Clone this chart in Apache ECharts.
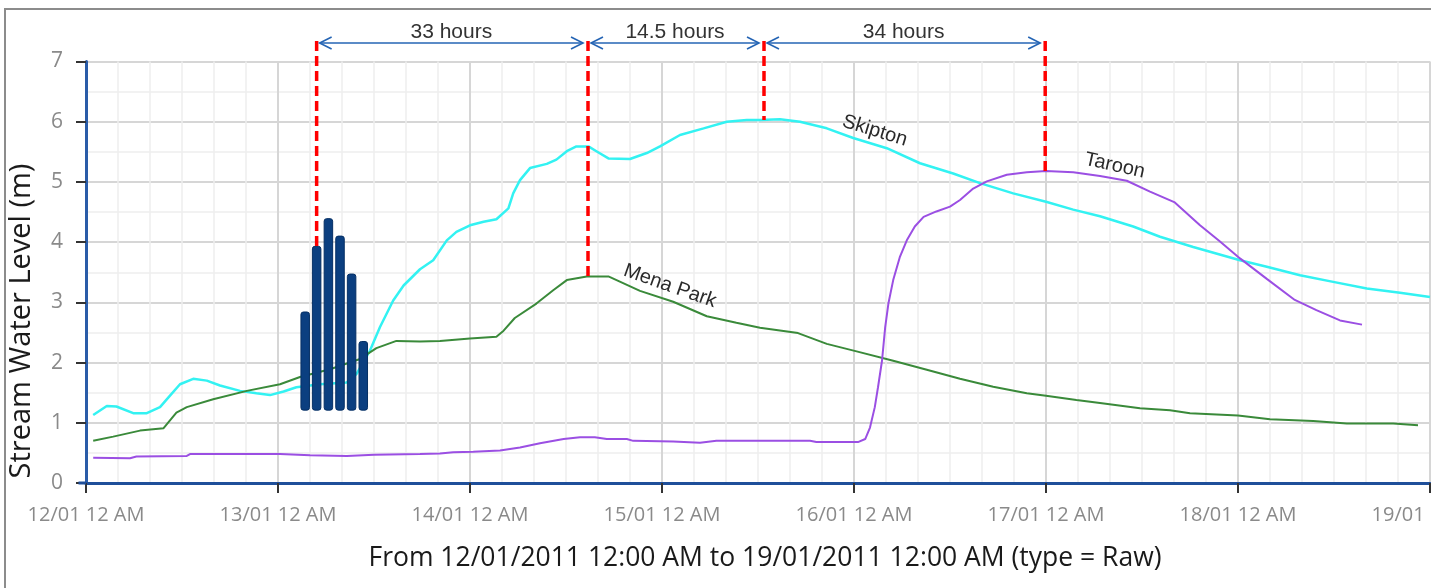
<!DOCTYPE html>
<html>
<head>
<meta charset="utf-8">
<script src="https://cdn.jsdelivr.net/npm/echarts@6/dist/echarts.min.js"></script>
<style>
  html, body { margin: 0; padding: 0; background: #ffffff; }
  #chart { width: 1431px; height: 588px; }
</style>
</head>
<body>
<div id="chart"></div>
<script>
// Time is measured in hours since 12/01/2011 12:00 AM.
const dayLabels = ['12/01 12 AM', '13/01 12 AM', '14/01 12 AM', '15/01 12 AM',
                   '16/01 12 AM', '17/01 12 AM', '18/01 12 AM', '19/01 12 AM'];

const skiptonHours = [0.9, 2.6, 3.8, 5.9, 7.6, 9.25, 10.5, 11.75, 13.4, 15.1, 16.75, 19.25, 21.3, 23, 24.7, 26.3,
  29.25, 32.6, 33.8, 35.5, 36.75, 38.4, 39.7, 41.75, 43.4, 45.1, 46.3, 48, 49.7, 51.3, 52.8, 53.4, 54.25, 55.5,
  57.6, 58.8, 60.1, 61.3, 62.8, 63.8, 65.3, 68, 70.1, 71.75, 74.25, 77.2, 80.1, 82.6, 84.25, 86.75, 89.25, 92.6,
  95.9, 100.1, 104.25, 108.4, 111.75, 115.9, 120, 123.4, 126.75, 130.9, 134.25, 138.4, 144.25, 147.6, 151.75,
  155.9, 160.1, 164.25, 168];
const skiptonLevel = [1.13, 1.28, 1.27, 1.16, 1.16, 1.26, 1.45, 1.64, 1.73, 1.70, 1.62, 1.53, 1.49, 1.46, 1.52, 1.59,
  1.64, 1.67, 1.81, 2.20, 2.59, 3.03, 3.28, 3.55, 3.70, 4.03, 4.17, 4.28, 4.34, 4.38, 4.56, 4.81, 5.03, 5.23,
  5.30, 5.37, 5.51, 5.59, 5.59, 5.51, 5.39, 5.38, 5.48, 5.59, 5.78, 5.89, 6.00, 6.03, 6.03, 6.04, 6.00, 5.89,
  5.73, 5.56, 5.31, 5.14, 4.98, 4.81, 4.67, 4.54, 4.43, 4.26, 4.09, 3.92, 3.70, 3.59, 3.45,
  3.34, 3.23, 3.16, 3.09];

const menaParkHours = [0.9, 3.4, 6.75, 9.7, 11.3, 12.6, 15.9, 20.1, 24.25, 26.75, 30.5, 34.25, 36.3, 38.8, 41.75,
  44.25, 48, 51.3, 52.2, 53.6, 56.3, 58.4, 60.1, 62.6, 65.3, 69.25, 73.4, 77.6, 81.3, 84.25, 89, 92.6, 96.2,
  100.9, 105.1, 109.25, 113.4, 117.6, 120, 123.8, 126.75, 131.75, 135.5, 138, 144, 148, 153.4, 157.6, 163.4, 166.5];
const menaParkLevel = [0.70, 0.77, 0.87, 0.91, 1.17, 1.26, 1.39, 1.53, 1.64, 1.76, 1.89, 2.06, 2.24, 2.36, 2.35,
  2.36, 2.40, 2.43, 2.53, 2.74, 2.98, 3.20, 3.37, 3.43, 3.43, 3.19, 3.01, 2.77, 2.66, 2.58, 2.49, 2.31, 2.19,
  2.03, 1.88, 1.73, 1.60, 1.49, 1.45, 1.38, 1.33, 1.24, 1.21, 1.16, 1.12, 1.06, 1.03, 0.99, 0.99, 0.96];

const taroonHours = [0.9, 5.5, 6.3, 12.6, 13, 24.25, 28, 32.6, 36, 41.75, 44.25, 45.9, 48.4, 51.75, 54.25, 56.75,
  59.7, 61.75, 63.6, 65.1, 67.6, 68.4, 73.4, 76.75, 78.8, 84.25, 90.5, 91.3, 96.5, 97.4, 98, 98.6, 99, 99.5,
  99.9, 100.3, 100.9, 101.75, 102.6, 103.6, 104.7, 106.3, 108, 109.25, 110.9, 112.6, 115.1, 117.6, 120, 123.4,
  126.75, 130.1, 133, 136.1, 139.25, 141.75, 144.25, 147.6, 151.1, 153.8, 156.75, 159.5];
const taroonLevel = [0.42, 0.41, 0.44, 0.45, 0.48, 0.48, 0.46, 0.45, 0.47, 0.48, 0.49, 0.51, 0.52, 0.54, 0.59, 0.66,
  0.73, 0.76, 0.76, 0.73, 0.73, 0.70, 0.69, 0.67, 0.70, 0.70, 0.70, 0.68, 0.68, 0.73, 0.92, 1.26, 1.59, 2.03,
  2.59, 2.98, 3.37, 3.76, 4.03, 4.26, 4.42, 4.51, 4.59, 4.70, 4.89, 5.01, 5.12, 5.16, 5.18, 5.16,
  5.10, 5.02, 4.84, 4.66, 4.28, 4.01, 3.73, 3.39, 3.04, 2.87, 2.70, 2.63];

// Rainfall bars, drawn floating from a common base level.
const rainHours = [27.4, 28.83, 30.3, 31.75, 33.2, 34.66];
const rainTop = [2.84, 3.93, 4.39, 4.10, 3.47, 2.35];
const rainBase = 1.21;

// Peak markers and the travel times between them.
const peakHours = [28.83, 62.75, 84.75, 119.9];
const peakLevel = [3.93, 3.43, 6.03, 5.18];
const travelLabels = ['33 hours', '14.5 hours', '34 hours'];

const seriesNames = ['Skipton', 'Mena Park', 'Taroon'];

const zip = (xs, ys) => xs.map((x, i) => [x, ys[i]]);

// Placement of the in-plot series names (data coordinates + tilt).
const nameTags = [
  { name: 'Skipton', at: [98.6, 5.85], rot: -0.30 },
  { name: 'Mena Park', at: [73.0, 3.27], rot: -0.34 },
  { name: 'Taroon', at: [128.6, 5.27], rot: -0.22 }
];

const chart = echarts.init(document.getElementById('chart'), null, { renderer: 'canvas' });

const axisFont = 'Open Sans';

chart.setOption({
  animation: false,
  backgroundColor: '#ffffff',
  grid: { left: 86, right: 1, top: 61.5, bottom: 105, containLabel: false, outerBoundsMode: 'none' },
  xAxis: {
    type: 'value', min: 0, max: 168, interval: 24,
    axisLine: { show: true, onZero: false, lineStyle: { color: '#1f4f9a', width: 3 } },
    axisTick: { show: true, length: 10, lineStyle: { color: '#333333', width: 2 } },
    axisLabel: {
      color: '#8a8a8a', fontSize: 20, fontFamily: axisFont, margin: 22,
      showMaxLabel: true, showMinLabel: true, hideOverlap: false,
      formatter: v => (v % 24 === 0 ? dayLabels[v / 24] : '')
    },
    splitLine: { show: true, lineStyle: { color: '#d6d6d6', width: 2 } },
    minorTick: { show: false, splitNumber: 6 },
    minorSplitLine: { show: true, lineStyle: { color: '#eeeeee', width: 1.5 } }
  },
  yAxis: {
    type: 'value', min: 0, max: 7, interval: 1, offset: 6,
    axisLine: { show: true, lineStyle: { color: '#2a5ca8', width: 3 } },
    axisTick: { show: true, length: 10, lineStyle: { color: '#333333', width: 2 } },
    axisLabel: { color: '#8a8a8a', fontSize: 21, fontFamily: axisFont, margin: 17 },
    splitLine: { show: true, lineStyle: { color: '#d6d6d6', width: 2 } },
    minorTick: { show: false, splitNumber: 2 },
    minorSplitLine: { show: true, lineStyle: { color: '#eeeeee', width: 1.5 } }
  },
  series: [
    {
      name: seriesNames[0], type: 'line', data: zip(skiptonHours, skiptonLevel),
      showSymbol: false, lineStyle: { color: '#33f2f2', width: 2.5 }, z: 3
    },
    {
      name: seriesNames[1], type: 'line', data: zip(menaParkHours, menaParkLevel),
      showSymbol: false, lineStyle: { color: '#3a8a3a', width: 2 }, z: 3
    },
    {
      name: seriesNames[2], type: 'line', data: zip(taroonHours, taroonLevel),
      showSymbol: false, lineStyle: { color: '#9b4fe3', width: 2 }, z: 3
    },
    {
      name: 'Rainfall', type: 'custom', z: 5,
      data: rainHours.map((h, i) => [h, rainTop[i], rainBase]),
      encode: { x: 0, y: 1 },
      renderItem: (params, api) => {
        const top = api.coord([api.value(0), api.value(1)]);
        const base = api.coord([api.value(0), api.value(2)]);
        const w = 8.5;
        return {
          type: 'rect',
          shape: { x: top[0] - w / 2, y: top[1], width: w, height: base[1] - top[1], r: 2.5 },
          style: { fill: '#0b3f80', stroke: '#052f64', lineWidth: 1 }
        };
      }
    }
  ]
});

// Overlay: frame, titles, peak markers, travel-time arrows and series names.
const px = (h, v) => chart.convertToPixel({ gridIndex: 0 }, [h, v]);
const graphics = [];

graphics.push({
  type: 'rect', z: 0, silent: true,
  shape: { x: 5, y: 9, width: 1460, height: 620 },
  style: { fill: 'none', stroke: '#8c8c8c', lineWidth: 2 }
});

// Joins the y-axis line to the start of the x-axis line.
const origin = px(0, 0);
graphics.push({
  type: 'line', z: 10, silent: true,
  shape: { x1: origin[0] - 7.5, y1: origin[1], x2: origin[0], y2: origin[1] },
  style: { stroke: '#1f4f9a', lineWidth: 3 }
});

graphics.push({
  type: 'text', z: 10, silent: true,
  x: 22, y: 321, rotation: Math.PI / 2,
  style: {
    text: 'Stream Water Level (m)', fill: '#1a1a1a',
    font: '29px "Open Sans"', align: 'center', verticalAlign: 'middle'
  }
});
graphics.push({
  type: 'text', z: 10, silent: true,
  x: 765, y: 558,
  style: {
    text: 'From 12/01/2011 12:00 AM to 19/01/2011 12:00 AM (type = Raw)', fill: '#1a1a1a',
    font: '26.5px "Open Sans"', align: 'center', verticalAlign: 'middle'
  }
});

const markTop = px(0, 7.34)[1];
const arrowY = markTop + 2;
peakHours.forEach((h, i) => {
  const p = px(h, peakLevel[i]);
  graphics.push({
    type: 'line', z: 20, silent: true,
    shape: { x1: p[0], y1: markTop, x2: p[0], y2: p[1] },
    style: { stroke: '#ff0000', lineWidth: 3.5, lineDash: [10, 5] }
  });
});

const head = 12, half = 6;
travelLabels.forEach((label, i) => {
  const xa = px(peakHours[i], 0)[0] + 3;
  const xb = px(peakHours[i + 1], 0)[0] - 5;
  const blue = '#2464b4';
  graphics.push({
    type: 'line', z: 20, silent: true,
    shape: { x1: xa, y1: arrowY, x2: xb, y2: arrowY },
    style: { stroke: blue, lineWidth: 1.6 }
  });
  graphics.push({
    type: 'polyline', z: 20, silent: true,
    shape: { points: [[xa + head, arrowY - half], [xa, arrowY], [xa + head, arrowY + half]] },
    style: { stroke: blue, lineWidth: 1.6, fill: 'none' }
  });
  graphics.push({
    type: 'polyline', z: 20, silent: true,
    shape: { points: [[xb - head, arrowY - half], [xb, arrowY], [xb - head, arrowY + half]] },
    style: { stroke: blue, lineWidth: 1.6, fill: 'none' }
  });
  graphics.push({
    type: 'text', z: 20, silent: true,
    x: (xa + xb) / 2, y: arrowY - 11,
    style: {
      text: label, fill: '#333333', font: '21px "Liberation Sans"',
      align: 'center', verticalAlign: 'middle'
    }
  });
});

nameTags.forEach(tag => {
  const p = px(tag.at[0], tag.at[1]);
  graphics.push({
    type: 'text', z: 20, silent: true,
    x: p[0], y: p[1], rotation: tag.rot,
    style: {
      text: tag.name, fill: '#2a2a2a', font: '20px "Liberation Sans"',
      align: 'center', verticalAlign: 'middle'
    }
  });
});

chart.setOption({ graphic: graphics });
</script>
</body>
</html>
